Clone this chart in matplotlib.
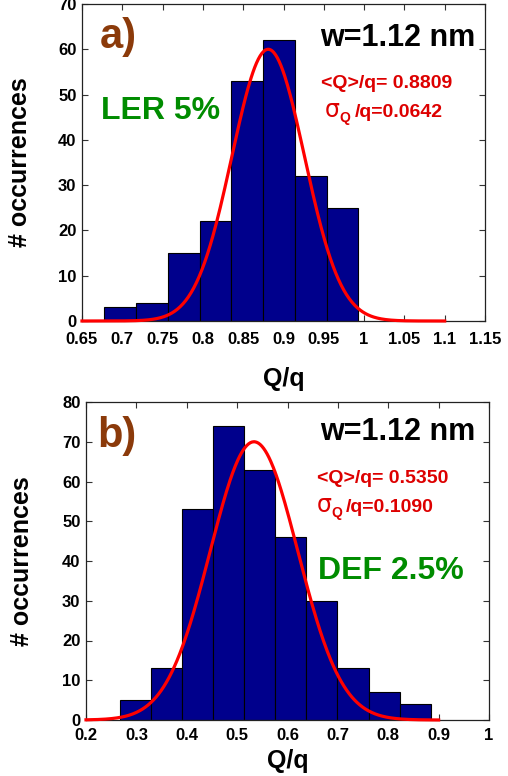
import numpy as np
import matplotlib
matplotlib.use("Agg")
import matplotlib.pyplot as plt
from matplotlib.transforms import offset_copy

plt.rcParams['font.family'] = ['Liberation Sans', 'DejaVu Sans']
plt.rcParams['font.weight'] = 'bold'

# ---- Panel a data ----
a_edges = [0.6777, 0.7171, 0.7565, 0.7959, 0.8353, 0.8747, 0.9140, 0.9534, 0.9928]
a_counts = [3, 4, 15, 22, 53, 62, 32, 25]
a_fit_mu, a_fit_sigma, a_fit_amp = 0.881, 0.045, 60.0
a_fit_range = (0.65, 1.10)
a_xticks = [0.65, 0.7, 0.75, 0.8, 0.85, 0.9, 0.95, 1.0, 1.05, 1.1, 1.15]
a_xticklabels = ['0.65', '0.7', '0.75', '0.8', '0.85', '0.9', '0.95', '1', '1.05', '1.1', '1.15']
a_yticks = [0, 10, 20, 30, 40, 50, 60, 70]

# ---- Panel b data ----
b_edges = [0.2675, 0.3292, 0.3909, 0.4525, 0.5142, 0.5759, 0.6375, 0.6992,
           0.7609, 0.8225, 0.8842]
b_counts = [5, 13, 53, 74, 63, 46, 30, 13, 7, 4]
b_fit_mu, b_fit_sigma, b_fit_amp = 0.5335, 0.087, 70.0
b_fit_range = (0.2, 0.9)
b_xticks = [0.2, 0.3, 0.4, 0.5, 0.6, 0.7, 0.8, 0.9, 1.0]
b_xticklabels = ['0.2', '0.3', '0.4', '0.5', '0.6', '0.7', '0.8', '0.9', '1']
b_yticks = [0, 10, 20, 30, 40, 50, 60, 70, 80]

BAR = '#00008c'
RED = '#ff0000'
GREEN = '#008c00'
BROWN = '#8b3a0a'
TXTRED = '#dd0000'

fig = plt.figure(figsize=(5.08, 7.76), dpi=100)
W, H = 508, 776
renderer = fig.canvas.get_renderer()

def make_ax(l, r, t, b):
    return fig.add_axes([l / W, 1 - b / H, (r - l) / W, (b - t) / H])

def style(ax, xlim, ylim, xticks, xticklabels, yticks, xpad):
    ax.set_xlim(*xlim)
    ax.set_ylim(*ylim)
    ax.set_xticks(xticks)
    ax.set_xticklabels(xticklabels)
    ax.set_yticks(yticks)
    ax.tick_params(direction='in', length=4, width=0.8, top=True, right=True,
                   labelsize=12, color='#333333')
    ax.tick_params(axis='x', pad=xpad)
    ax.tick_params(axis='y', pad=4)
    for lab in ax.get_xticklabels() + ax.get_yticklabels():
        lab.set_fontweight('bold')
    for s in ax.spines.values():
        s.set_linewidth(0.9)
        s.set_color('#222222')

def draw(ax, edges, counts, mu, sigma, amp, frange):
    edges = np.asarray(edges)
    widths = np.diff(edges)
    ax.bar(edges[:-1], counts, width=widths, align='edge', color=BAR,
           edgecolor='black', linewidth=0.8, zorder=2)
    x = np.linspace(frange[0], frange[1], 400)
    y = amp * np.exp(-0.5 * ((x - mu) / sigma) ** 2)
    ax.plot(x, y, color=RED, linewidth=2.3, zorder=3, clip_on=False)

def sigma_text(ax, x, y, rest):
    t1 = ax.text(x, y, '\u03c3', transform=ax.transAxes, fontsize=17,
                 fontweight='normal', family=['DejaVu Sans'], color=TXTRED,
                 ha='left', va='baseline')
    w1 = t1.get_window_extent(renderer).width * 72 / fig.dpi
    tr2 = offset_copy(ax.transAxes, fig=fig, x=w1 - 0.5, y=-4, units='points')
    t2 = ax.text(x, y, 'Q', transform=tr2, fontsize=10, fontweight='bold',
                 color=TXTRED, ha='left', va='baseline')
    w2 = t2.get_window_extent(renderer).width * 72 / fig.dpi
    tr3 = offset_copy(ax.transAxes, fig=fig, x=w1 + w2 + 2.5, y=0, units='points')
    ax.text(x, y, rest, transform=tr3, fontsize=14, fontweight='bold',
            color=TXTRED, ha='left', va='baseline')

# Panel a
axa = make_ax(82, 485, 4, 321)
draw(axa, a_edges, a_counts, a_fit_mu, a_fit_sigma, a_fit_amp, a_fit_range)
style(axa, (0.65, 1.15), (0, 70), a_xticks, a_xticklabels, a_yticks, 8)
axa.set_xlabel('Q/q', fontsize=18, fontweight='bold', labelpad=14)
axa.set_ylabel('# occurrences', fontsize=18, fontweight='bold')
axa.yaxis.set_label_coords(-0.125, 0.5)
axa.text(0.045, 0.862, 'a)', transform=axa.transAxes, fontsize=30,
         fontweight='bold', color=BROWN, ha='left', va='baseline')
axa.text(0.975, 0.868, 'w=1.12 nm', transform=axa.transAxes, fontsize=22,
         fontweight='bold', color='black', ha='right', va='baseline')
axa.text(0.593, 0.736, '<Q>/q= 0.8809', transform=axa.transAxes, fontsize=14,
         fontweight='bold', color=TXTRED, ha='left', va='baseline')
sigma_text(axa, 0.603, 0.645, '/q=0.0642')
axa.text(0.047, 0.637, 'LER 5%', transform=axa.transAxes, fontsize=23,
         fontweight='bold', color=GREEN, ha='left', va='baseline')

# Panel b
axb = make_ax(86, 489, 402, 720)
draw(axb, b_edges, b_counts, b_fit_mu, b_fit_sigma, b_fit_amp, b_fit_range)
style(axb, (0.2, 1.0), (0, 80), b_xticks, b_xticklabels, b_yticks, 6)
axb.set_xlabel('Q/q', fontsize=18, fontweight='bold', labelpad=4)
axb.set_ylabel('# occurrences', fontsize=18, fontweight='bold')
axb.yaxis.set_label_coords(-0.128, 0.5)
axb.text(0.027, 0.858, 'b)', transform=axb.transAxes, fontsize=30,
         fontweight='bold', color=BROWN, ha='left', va='baseline')
axb.text(0.965, 0.880, 'w=1.12 nm', transform=axb.transAxes, fontsize=22,
         fontweight='bold', color='black', ha='right', va='baseline')
axb.text(0.573, 0.745, '<Q>/q= 0.5350', transform=axb.transAxes, fontsize=14,
         fontweight='bold', color=TXTRED, ha='left', va='baseline')
sigma_text(axb, 0.573, 0.655, '/q=0.1090')
axb.text(0.576, 0.443, 'DEF 2.5%', transform=axb.transAxes, fontsize=23,
         fontweight='bold', color=GREEN, ha='left', va='baseline')

fig.savefig('out.png', dpi=100)
